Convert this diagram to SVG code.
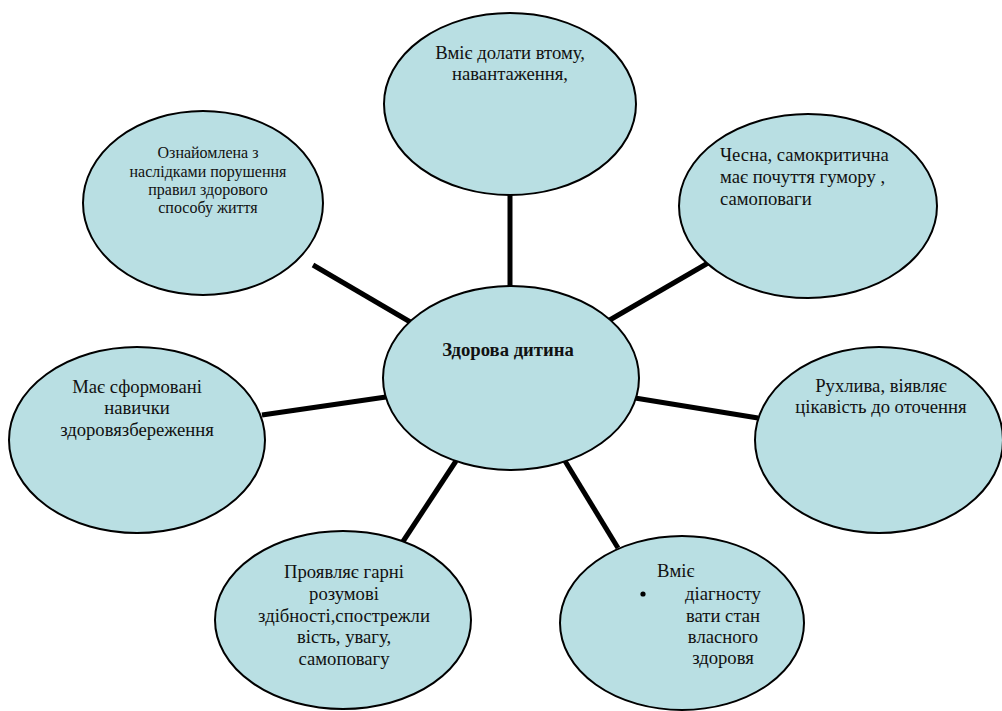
<svg xmlns="http://www.w3.org/2000/svg" width="1002" height="711" viewBox="0 0 1002 711">
<style>
.n{fill:#b9dfe3;stroke:#000;stroke-width:2}
text{font-family:'Liberation Serif','Times New Roman',serif;font-size:18.67px;fill:#111}
.c{text-anchor:middle}
.s{font-size:16px}
.b{font-weight:bold}
.e{stroke:#000;stroke-width:5;fill:none}
</style>
<rect width="1002" height="711" fill="#fff"/>
<g id="connectors">
<line class="e" x1="510" y1="193" x2="510" y2="289"/>
<line class="e" x1="313" y1="265" x2="412" y2="323"/>
<line class="e" x1="708" y1="263" x2="608" y2="321"/>
<line class="e" x1="262" y1="415" x2="386" y2="397"/>
<line class="e" x1="635" y1="398" x2="758" y2="418"/>
<line class="e" x1="456" y1="461" x2="400" y2="546"/>
<line class="e" x1="565" y1="461" x2="618" y2="548"/>
</g>
<g id="n-top">
<ellipse class="n" cx="510" cy="104" rx="126" ry="91"/>
<text class="c" x="510" y="59">Вміє долати втому,</text>
<text class="c" x="510" y="80">навантаження,</text>
</g>
<g id="n-topleft">
<ellipse class="n" cx="203" cy="203" rx="120" ry="92"/>
<text class="c s" x="208" y="158">Ознайомлена з</text>
<text class="c s" x="208" y="177">наслідками порушення</text>
<text class="c s" x="208" y="195">правил здорового</text>
<text class="c s" x="208" y="213">способу життя</text>
</g>
<g id="n-topright">
<ellipse class="n" cx="808" cy="206" rx="129" ry="92"/>
<text x="720" y="161">Чесна, самокритична</text>
<text x="720" y="183">має почуття гумору ,</text>
<text x="720" y="205">самоповаги</text>
</g>
<g id="n-center">
<ellipse class="n" cx="511" cy="378" rx="128" ry="92"/>
<text class="c b" x="508" y="356">Здорова дитина</text>
</g>
<g id="n-left">
<ellipse class="n" cx="137" cy="440" rx="128" ry="93"/>
<text class="c" x="137" y="393">Має сформовані</text>
<text class="c" x="137" y="414">навички</text>
<text class="c" x="137" y="436">здоровязбереження</text>
</g>
<g id="n-right">
<ellipse class="n" cx="879" cy="440" rx="124" ry="93"/>
<text class="c" x="881" y="392">Рухлива, віявляє</text>
<text class="c" x="881" y="413">цікавість до оточення</text>
</g>
<g id="n-bottomleft">
<ellipse class="n" cx="343" cy="620" rx="128" ry="89"/>
<text class="c" x="344" y="578">Проявляє гарні</text>
<text class="c" x="344" y="600">розумові</text>
<text class="c" x="344" y="622">здібності,спострежли</text>
<text class="c" x="344" y="643">вість, увагу,</text>
<text class="c" x="344" y="665">самоповагу</text>
</g>
<g id="n-bottomright">
<ellipse class="n" cx="682" cy="623" rx="122" ry="87"/>
<text x="657" y="577">Вміє</text>
<circle cx="643" cy="594" r="2.6" fill="#000"/>
<text class="c" x="723" y="600">діагносту</text>
<text class="c" x="723" y="622">вати стан</text>
<text class="c" x="723" y="643">власного</text>
<text class="c" x="723" y="664">здоровя</text>
</g>
</svg>
